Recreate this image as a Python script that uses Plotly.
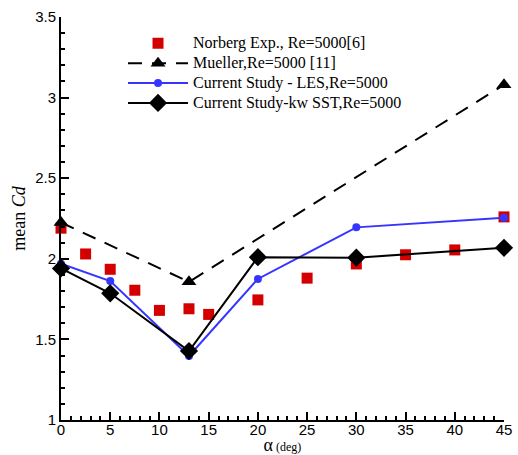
import plotly.graph_objects as go

# Data
norberg_x = [0, 2.5, 5, 7.5, 10, 13, 15, 20, 25, 30, 35, 40, 45]
norberg_y = [2.19, 2.03, 1.935, 1.805, 1.68, 1.69, 1.655, 1.745, 1.88, 1.968, 2.025, 2.055, 2.26]

mueller_x = [0, 13, 45]
mueller_y = [2.225, 1.857, 3.08]

les_x = [0, 5, 13, 20, 30, 45]
les_y = [1.97, 1.862, 1.397, 1.875, 2.195, 2.255]

sst_x = [0, 5, 13, 20, 30, 45]
sst_y = [1.94, 1.786, 1.428, 2.01, 2.007, 2.068]

def lbl(s):
    return "<span style='font-size:16px'>" + s + "</span>"

fig = go.Figure()
fig.add_trace(go.Scatter(x=norberg_x, y=norberg_y, mode="markers", name=lbl("Norberg Exp., Re=5000[6]"),
                         marker=dict(symbol="square", size=11, color="#d40000"), cliponaxis=False))
fig.add_trace(go.Scatter(x=mueller_x, y=mueller_y, mode="lines+markers", name=lbl("Mueller,Re=5000 [11]"),
                         line=dict(color="black", width=2, dash="14px,10px"),
                         marker=dict(symbol="triangle-up", size=13, color="black"), cliponaxis=False))
fig.add_trace(go.Scatter(x=les_x, y=les_y, mode="lines+markers", name=lbl("Current Study - LES,Re=5000"),
                         line=dict(color="#3535ff", width=2),
                         marker=dict(symbol="circle", size=8, color="#3535ff"), cliponaxis=False))
fig.add_trace(go.Scatter(x=sst_x, y=sst_y, mode="lines+markers", name=lbl("Current Study-kw SST,Re=5000"),
                         line=dict(color="black", width=2),
                         marker=dict(symbol="diamond", size=14, color="black"), cliponaxis=False))

axis_font = dict(family="Liberation Sans, Arial", size=15, color="black")
fig.update_layout(
    width=518, height=455,
    margin=dict(l=61, r=14, t=17, b=35),
    paper_bgcolor="white", plot_bgcolor="white",
    font=dict(family="Liberation Serif, Times New Roman", color="black"),
    legend=dict(x=0.14, y=0.972, xanchor="left", yanchor="top", bgcolor="rgba(0,0,0,0)",
                font=dict(family="Liberation Serif, Times New Roman", size=13, color="black"),
                tracegroupgap=0, itemwidth=60),
    xaxis=dict(range=[0, 45], showgrid=False, zeroline=False, showline=True, linecolor="black", linewidth=2,
               ticks="inside", tickwidth=2, ticklen=8, tickcolor="black", dtick=5, tick0=0,
               minor=dict(ticks="inside", ticklen=4, tickwidth=1.5, dtick=1, tickcolor="black"),
               tickfont=axis_font, automargin=False, ticklabelstandoff=-5,
               title=dict(text="<span style='font-size:18px'>α</span><span style='font-size:12px'> (deg)</span>",
                          font=dict(family="Liberation Serif, Times New Roman", color="black"), standoff=4)),
    yaxis=dict(range=[1, 3.5], showgrid=False, zeroline=False, showline=True, linecolor="black", linewidth=2,
               ticks="inside", tickwidth=2, ticklen=8, tickcolor="black", dtick=0.5, tick0=1,
               minor=dict(ticks="inside", ticklen=4, tickwidth=1.5, dtick=0.1, tickcolor="black"),
               tickfont=axis_font, automargin=False,
               title=dict(text="mean <i>Cd</i>", font=dict(family="Liberation Serif, Times New Roman", size=18, color="black"),
                          standoff=5)),
)
fig.write_html("out.html")
